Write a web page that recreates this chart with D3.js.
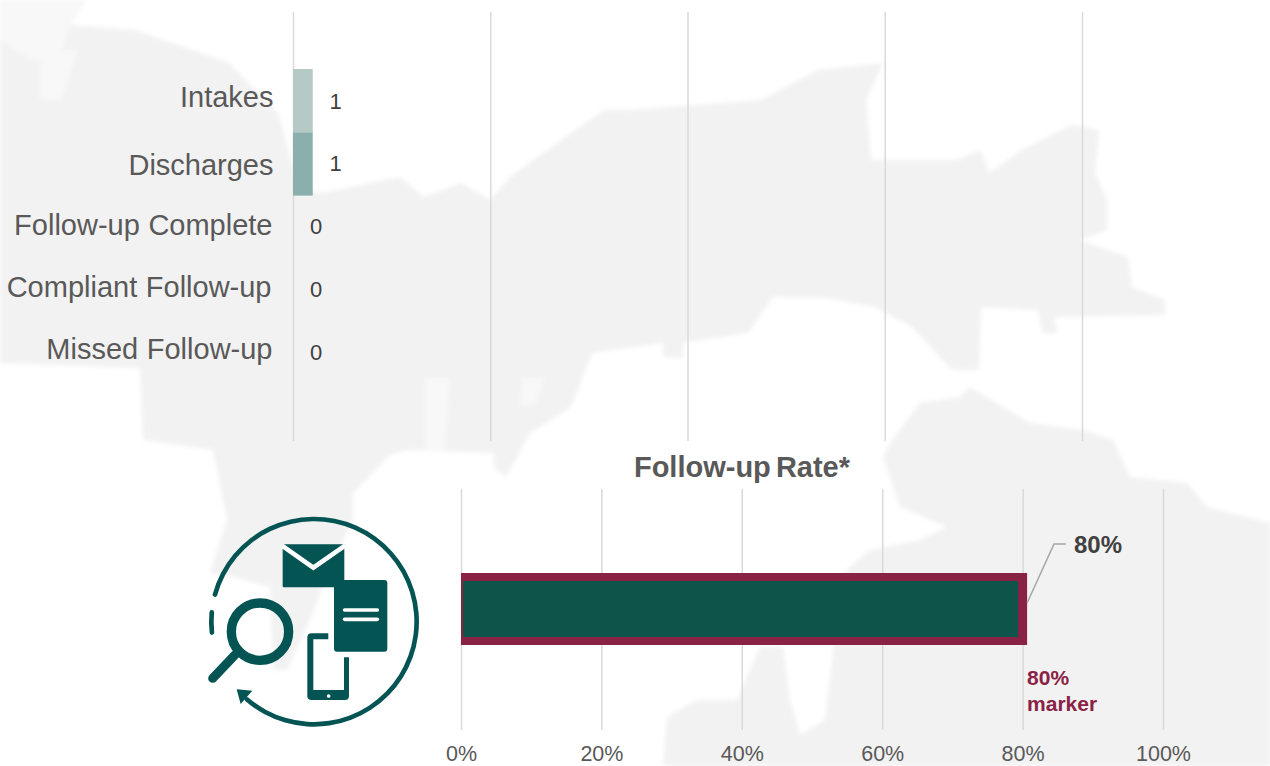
<!DOCTYPE html>
<html>
<head>
<meta charset="utf-8">
<script src="https://cdn.jsdelivr.net/npm/d3@7/dist/d3.min.js"></script>
<style>
html,body{margin:0;padding:0;background:#fff;overflow:hidden}
svg{display:block}
text{font-family:"Liberation Sans",Arial,sans-serif}
</style>
</head>
<body>
<svg id="c" width="1270" height="766"></svg>
<script>
// ---- data ----
const categories = ["Intakes","Discharges","Follow-up Complete","Compliant Follow-up","Missed Follow-up"];
const counts = [1,1,0,0,0];
const countTicks = [0,10,20,30,40];
const rateTicks = [0,20,40,60,80,100];
const rateValue = [80];
const markerValue = 80;

// ---- decorative background outline (map silhouette) ----
const northOutline = [[0,0],[86,0],[70,25],[135,30],[229,63],[278,113],[300,190],[322,193],[400,177],[424,197],[461,183],[490,200],[510,177],[571,133],[604,110],[630,110],[761,100],[818,70],[883,63],[866,100],[871,160],[957,160],[981,150],[989,173],[1022,150],[1071,125],[1099,130],[1095,173],[1107,200],[1107,230],[1079,240],[1128,257],[1132,287],[1165,300],[1165,315],[1054,317],[1058,333],[1042,333],[1038,310],[981,307],[979,370],[952,370],[912,327],[875,307],[826,298],[773,297],[748,333],[683,343],[683,358],[663,357],[663,343],[592,353],[571,407],[530,433],[506,477],[494,467],[494,453],[408,450],[390,455],[353,493],[353,520],[333,560],[310,620],[287,670],[273,670],[270,587],[233,577],[210,573],[227,520],[213,450],[143,440],[140,368],[0,363]];
const southOutline = [[883,457],[890,443],[920,403],[960,397],[970,387],[980,393],[1030,423],[1083,430],[1113,440],[1130,477],[1187,483],[1207,507],[1270,523],[1270,766],[663,766],[667,717],[697,700],[737,700],[760,647],[783,647],[790,700],[800,735],[825,720],[833,653],[843,573],[870,550],[920,540],[947,527],[900,507]];
const lightPatches = [[[425,378],[450,378],[445,450],[425,450]],[[522,378],[545,378],[535,405],[520,405]],[[40,50],[78,50],[62,100],[40,100]],[[0,0],[86,0],[70,25],[60,60],[30,60],[0,40]]];

const svg = d3.select("#c");
const defs = svg.append("defs");
defs.append("filter").attr("id","soft").attr("filterUnits","userSpaceOnUse")
  .attr("x",-20).attr("y",-20).attr("width",1310).attr("height",806)
  .append("feGaussianBlur").attr("stdDeviation",2.2);
const line = d3.line();
const bg = svg.append("g").attr("filter","url(#soft)");
bg.selectAll("path.land").data([northOutline,southOutline]).join("path")
  .attr("class","land").attr("d",d=>line(d)+"Z").attr("fill","#f2f2f2");
bg.selectAll("path.patch").data(lightPatches).join("path")
  .attr("class","patch").attr("d",d=>line(d)+"Z").attr("fill","#f8f8f8");

// ---- top chart ----
const GRID = "#d9d9d9";
const xTop = d3.scaleLinear().domain([0,40]).range([293,1082]);
const yTop = d3.scaleBand().domain(categories).range([69,385.5]).padding(0);
const gridTop = svg.append("g").attr("transform","translate(0,441)")
  .call(d3.axisBottom(xTop).tickValues(countTicks).tickSize(-429).tickFormat(""));
gridTop.select(".domain").remove();
gridTop.selectAll("line").attr("stroke",GRID).attr("stroke-width",1.5);

const barColors = ["#b5cac6","#8bafac"];
svg.selectAll("rect.bar").data(categories).join("rect").attr("class","bar")
  .attr("x",xTop(0)).attr("y",d=>yTop(d))
  .attr("width",(d,i)=>xTop(counts[i])-xTop(0))
  .attr("height",yTop.bandwidth())
  .attr("fill",(d,i)=>barColors[i]||"none");

const labelNudge = [-2.7,1.9,-1.4,-3.2,-4.4];
const valueNudge = [0.3,-0.6,-1,-1.4,-1.8];
const labelRight = [273.5,273.5,272.5,271.5,272.5];
svg.selectAll("text.cat").data(categories).join("text").attr("class","cat")
  .attr("x",(d,i)=>labelRight[i])
  .attr("y",(d,i)=>yTop(d)+yTop.bandwidth()/2+labelNudge[i]+9.5)
  .attr("text-anchor","end").attr("font-size",29).attr("fill","#595959")
  .attr("word-spacing",0.5)
  .text(d=>d);

svg.selectAll("text.val").data(categories).join("text").attr("class","val")
  .attr("x",(d,i)=>xTop(counts[i])+23)
  .attr("y",(d,i)=>yTop(d)+yTop.bandwidth()/2+valueNudge[i]+8)
  .attr("text-anchor","middle").attr("font-size",22).attr("fill","#404040")
  .text((d,i)=>counts[i]);

// ---- bottom chart ----
const xBot = d3.scaleLinear().domain([0,100]).range([461,1163]);
const axisBot = svg.append("g").attr("transform","translate(0,730)")
  .call(d3.axisBottom(xBot).tickValues(rateTicks).tickSize(-241).tickPadding(15.5).tickFormat(d=>d+"%"));
axisBot.select(".domain").remove();
axisBot.selectAll("line").attr("stroke",GRID).attr("stroke-width",1.5);
axisBot.selectAll("text").attr("font-size",21.5).attr("fill","#595959")
  .attr("font-family",'"Liberation Sans",Arial,sans-serif');

svg.append("text").attr("x",742).attr("y",477)
  .attr("text-anchor","middle").attr("font-size",29).attr("font-weight","bold")
  .attr("fill","#595959").attr("word-spacing",-3).text("Follow-up Rate*");

svg.selectAll("rect.marker").data([markerValue]).join("rect").attr("class","marker")
  .attr("x",xBot(0)).attr("y",573)
  .attr("width",d=>xBot(d)+4.5-xBot(0)).attr("height",72).attr("fill","#8a2245");
svg.selectAll("rect.rate").data(rateValue).join("rect").attr("class","rate")
  .attr("x",xBot(0)+2).attr("y",581)
  .attr("width",d=>xBot(d)-4.5-xBot(0)-2).attr("height",56).attr("fill","#0e544b");

svg.append("path").attr("d",line([[xBot(rateValue[0])+4.5,603],[1054,544],[1066,544]]))
  .attr("fill","none").attr("stroke","#a6a6a6").attr("stroke-width",1.5);
svg.append("text").attr("x",1074).attr("y",552.5).attr("font-size",24).attr("font-weight","bold")
  .attr("fill","#404040").text(rateValue[0]+"%");
const mk = svg.append("g").attr("font-size",21).attr("font-weight","bold").attr("fill","#8a2245");
mk.append("text").attr("x",xBot(markerValue)+4.5).attr("y",685).text(markerValue+"%");
mk.append("text").attr("x",xBot(markerValue)+4.5).attr("y",711).text("marker");

// ---- icon ----
const TEAL = "#035453";
const icon = svg.append("g").attr("transform","translate(190,500) scale(0.3333)");
const rad = d=>d*Math.PI/180;
const ring = d3.arc().innerRadius(301).outerRadius(315).cornerRadius(7);
icon.append("path").attr("transform","translate(372,365)").attr("fill",TEAL)
  .attr("d",ring({startAngle:rad(-76),endAngle:rad(222)}));
icon.append("path").attr("transform","translate(372,365)").attr("fill",TEAL)
  .attr("d",ring({startAngle:rad(262.6),endAngle:rad(276.5)}));
icon.append("path").attr("fill",TEAL).attr("d","M140,568L187,572L152,612Z");
icon.append("rect").attr("x",278).attr("y",133).attr("width",185).attr("height",129).attr("rx",3).attr("fill",TEAL);
icon.append("path").attr("d","M276,137L370,203L465,137").attr("fill","none").attr("stroke","#fff").attr("stroke-width",14);
icon.append("rect").attr("x",432).attr("y",240).attr("width",160).attr("height",215).attr("rx",9).attr("fill",TEAL);
icon.selectAll("line.doc").data([330,358]).join("line").attr("class","doc")
  .attr("x1",464).attr("x2",562).attr("y1",d=>d).attr("y2",d=>d)
  .attr("stroke","#fff").attr("stroke-width",11).attr("stroke-linecap","round");
icon.append("path").attr("fill",TEAL)
  .attr("d","M415,400H365Q352,400 352,413V588Q352,600 365,600H465Q477,600 477,588V472H462V570H370V418H415Z");
icon.append("circle").attr("cx",416).attr("cy",588).attr("r",5.5).attr("fill","#fff");
icon.append("circle").attr("cx",210).attr("cy",395).attr("r",86).attr("fill","none").attr("stroke",TEAL).attr("stroke-width",28);
icon.append("line").attr("x1",135).attr("y1",465).attr("x2",68).attr("y2",535)
  .attr("stroke",TEAL).attr("stroke-width",27).attr("stroke-linecap","round");
</script>
</body>
</html>
